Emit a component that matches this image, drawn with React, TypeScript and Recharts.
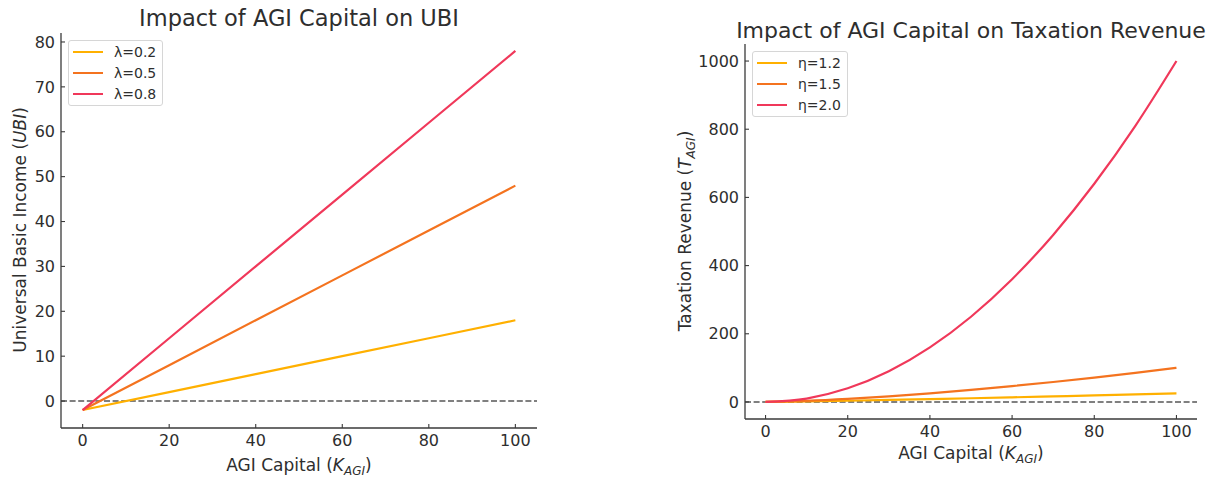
import React from 'react'
import { LineChart, Line, XAxis, YAxis, ReferenceLine, Legend } from 'recharts'

// UBI panel (straight lines read at every 20 units of capital)
const capital = [0, 20, 40, 60, 80, 100]
const ubiLow = [-2, 2, 6, 10, 14, 18]
const ubiMid = [-2, 8, 18, 28, 38, 48]
const ubiHigh = [-2, 14, 30, 46, 62, 78]
const ubiNames = ['λ=0.2', 'λ=0.5', 'λ=0.8']

// taxation panel (curves read at every 10 units)
const capitalFine = [0, 10, 20, 30, 40, 50, 60, 70, 80, 90, 100]
const taxLow = [0, 1.6, 3.6, 5.9, 8.4, 10.9, 13.6, 16.4, 19.2, 22.2, 25]
const taxMid = [0, 3.2, 8.9, 16.4, 25.3, 35.4, 46.5, 58.6, 71.6, 85.4, 100]
const taxHigh = [0, 10, 40, 90, 160, 250, 360, 490, 640, 810, 1000]
const taxNames = ['η=1.2', 'η=1.5', 'η=2.0']

const xTicks = [0, 20, 40, 60, 80, 100]
const ubiTicks = [0, 10, 20, 30, 40, 50, 60, 70, 80]
const taxTicks = [0, 200, 400, 600, 800, 1000]

const COLORS = ['#FFB000', '#F4731F', '#F0385A']
const FONT = '"DejaVu Sans", sans-serif'
const INK = '#2e2e2e'
const AXIS = '#3a3a3a'

const ubiData = capital.map((k, i) => ({ k, a: ubiLow[i], b: ubiMid[i], c: ubiHigh[i] }))
const taxData = capitalFine.map((k, i) => ({ k, a: taxLow[i], b: taxMid[i], c: taxHigh[i] }))

const tickStyle = { fill: INK, fontSize: 16, fontFamily: FONT }

function LegendBox({ names }: { names: string[] }) {
  return (
    <div style={{
      background: 'rgba(255,255,255,0.85)', border: '1px solid #d6d6d6', borderRadius: 3,
      padding: '1px 6px 1px 4px', fontFamily: FONT, fontSize: 14, color: INK,
    }}>
      {names.map((n, i) => (
        <div key={n} style={{ display: 'flex', alignItems: 'center', height: 20.7 }}>
          <span style={{ display: 'inline-block', width: 30, height: 2, background: COLORS[i], marginRight: 11 }} />
          <span>{n}</span>
        </div>
      ))}
    </div>
  )
}

function Panel({ data, names, width, height, margin, yWidth, xHeight, yDomain, yTicks, curve, legendPos }: any) {
  return (
    <LineChart width={width} height={height} data={data} margin={margin}>
      <XAxis dataKey="k" type="number" domain={[-5, 105]} ticks={xTicks} height={xHeight}
        tick={tickStyle} tickSize={-4} tickMargin={11}
        axisLine={{ stroke: AXIS, strokeWidth: 1.3 }} tickLine={{ stroke: AXIS, strokeWidth: 1.1 }} />
      <YAxis type="number" domain={yDomain} ticks={yTicks} width={yWidth} allowDataOverflow
        tick={tickStyle} tickSize={-4} tickMargin={10}
        axisLine={{ stroke: AXIS, strokeWidth: 1.3 }} tickLine={{ stroke: AXIS, strokeWidth: 1.1 }} />
      <ReferenceLine y={0} stroke="#808080" strokeWidth={2} strokeDasharray="6 2.6" />
      {['a', 'b', 'c'].map((key, i) => (
        <Line key={key} dataKey={key} name={names[i]} type={curve} stroke={COLORS[i]} strokeWidth={2.2}
          dot={false} activeDot={false} isAnimationActive={false} />
      ))}
      <Legend layout="vertical" align="center" verticalAlign="middle"
        wrapperStyle={{ left: legendPos[0], top: legendPos[1], width: 'auto', height: 'auto' }}
        content={() => <LegendBox names={names} />} />
    </LineChart>
  )
}

export default function App() {
  return (
    <div style={{ position: 'absolute', left: 0, top: 0, width: 1217, height: 477, background: '#fff' }}>
      <div style={{ position: 'absolute', left: 0, top: 0 }}>
        <Panel data={ubiData} names={ubiNames} width={560} height={477}
          margin={{ top: 33, right: 23, left: 0, bottom: 0 }} yWidth={61} xHeight={49}
          yDomain={[-6, 82]} yTicks={ubiTicks} curve="linear" legendPos={[68, 40]} />
      </div>
      <div style={{ position: 'absolute', left: 620, top: 0 }}>
        <Panel data={taxData} names={taxNames} width={597} height={477}
          margin={{ top: 44, right: 20, left: 0, bottom: 0 }} yWidth={125} xHeight={58}
          yDomain={[-50, 1050]} yTicks={taxTicks} curve="monotone" legendPos={[132, 51]} />
      </div>
      <svg width={1217} height={477} style={{ position: 'absolute', left: 0, top: 0, pointerEvents: 'none' }}
        fontFamily={FONT} fill={INK}>
        <text x={299} y={26} textAnchor="middle" fontSize={22.5}>Impact of AGI Capital on UBI</text>
        <text x={971} y={38} textAnchor="middle" fontSize={22}>Impact of AGI Capital on Taxation Revenue</text>
        <text x={299} y={471} textAnchor="middle" fontSize={17}>
          AGI Capital (<tspan fontStyle="italic">K</tspan>
          <tspan fontStyle="italic" fontSize={12} dy={4}>AGI</tspan><tspan dy={-4}>)</tspan>
        </text>
        <text x={971} y={459} textAnchor="middle" fontSize={17}>
          AGI Capital (<tspan fontStyle="italic">K</tspan>
          <tspan fontStyle="italic" fontSize={12} dy={4}>AGI</tspan><tspan dy={-4}>)</tspan>
        </text>
        <text transform="translate(26,230) rotate(-90)" textAnchor="middle" fontSize={17}>
          Universal Basic Income (<tspan fontStyle="italic">UBI</tspan>)
        </text>
        <text transform="translate(691,231) rotate(-90)" textAnchor="middle" fontSize={17}>
          Taxation Revenue (<tspan fontStyle="italic">T</tspan>
          <tspan fontStyle="italic" fontSize={12} dy={4}>AGI</tspan><tspan dy={-4}>)</tspan>
        </text>
      </svg>
    </div>
  )
}
